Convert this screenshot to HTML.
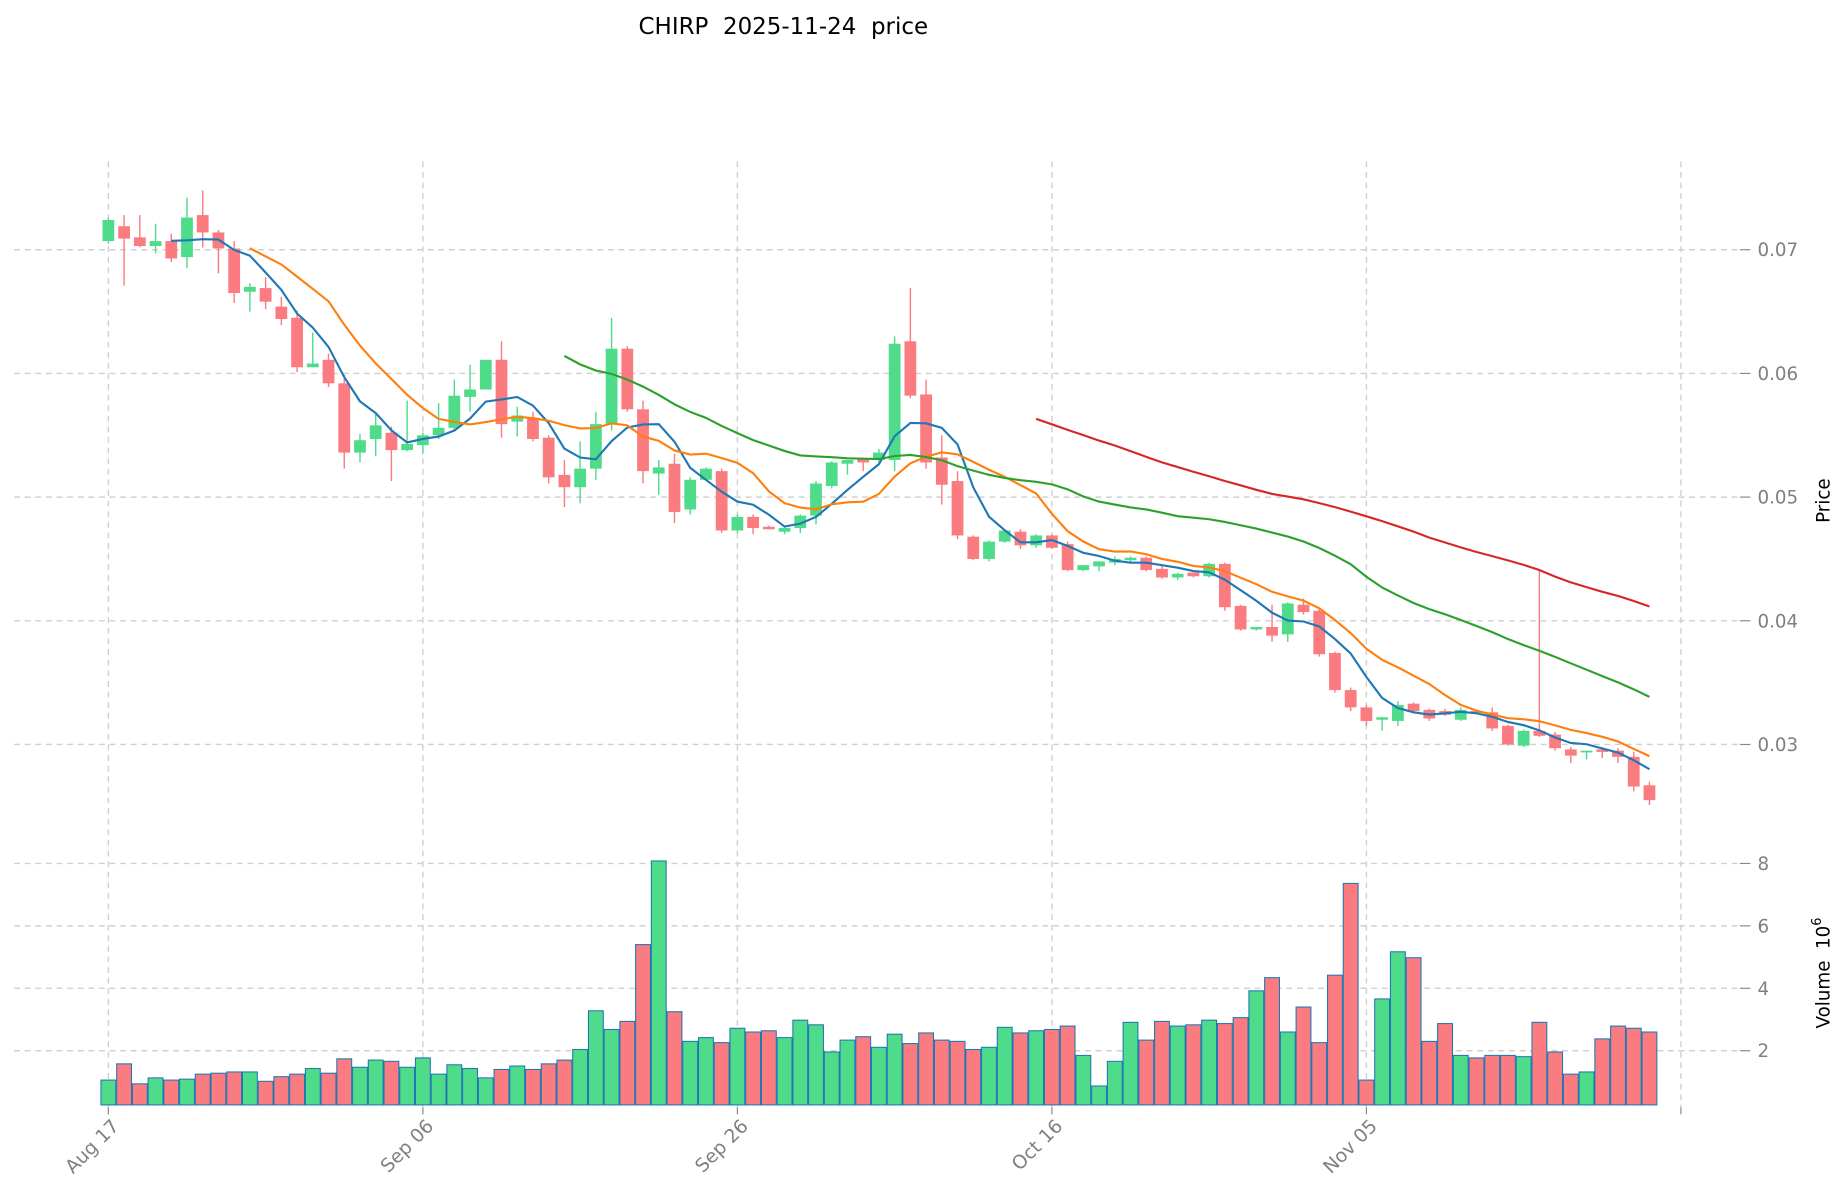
<!DOCTYPE html>
<html><head><meta charset="utf-8"><title>CHIRP price</title>
<style>html,body{margin:0;padding:0;background:#fff;}svg{display:block;font-family:"DejaVu Sans","Liberation Sans",sans-serif;}text{white-space:pre;}</style>
</head><body>
<svg id="chart" width="1847" height="1202" viewBox="0 0 1568 1020.4" xmlns="http://www.w3.org/2000/svg">
<text x="665" y="29" text-anchor="middle" font-size="19.5" fill="#000" xml:space="preserve">CHIRP  2025-11-24  price</text>
<g id="grid"></g>
<g id="vol"></g>
<g id="candles"></g>
<g id="mas"></g>
<g id="axes"></g>
<text transform="translate(1553,425) rotate(-90)" text-anchor="middle" font-size="15.5" fill="#000">Price</text>
<text transform="translate(1553,826) rotate(-90)" text-anchor="middle" font-size="15.5" fill="#000" xml:space="preserve">Volume  10<tspan dy="-7" font-size="11">6</tspan></text>
</svg>
<script>
const opens=[0.0707,0.0719,0.0710,0.0703,0.0707,0.0694,0.0728,0.0714,0.0701,0.0666,0.0669,0.0654,0.0645,0.0605,0.0611,0.0592,0.0536,0.0547,0.0552,0.0538,0.0542,0.0550,0.0556,0.0581,0.0587,0.0611,0.0561,0.0564,0.0548,0.0518,0.0508,0.0523,0.0559,0.0620,0.0571,0.0519,0.0527,0.0490,0.0514,0.0521,0.0473,0.0484,0.0476,0.0472,0.0475,0.0485,0.0509,0.0527,0.0531,0.0530,0.0530,0.0626,0.0583,0.0532,0.0513,0.0468,0.0450,0.0464,0.0472,0.0461,0.0469,0.0462,0.0441,0.0444,0.0447,0.0449,0.0451,0.0442,0.0435,0.0439,0.0436,0.0446,0.0412,0.0393,0.0395,0.0389,0.0413,0.0408,0.0374,0.0344,0.0330,0.0320,0.0319,0.0333,0.0328,0.0327,0.0320,0.0327,0.0326,0.0315,0.0299,0.0311,0.0308,0.0296,0.0294,0.0296,0.0295,0.0290,0.0267];
const closes=[0.0724,0.0709,0.0703,0.0707,0.0693,0.0726,0.0714,0.0701,0.0665,0.0670,0.0658,0.0644,0.0605,0.0608,0.0592,0.0536,0.0546,0.0558,0.0538,0.0543,0.0550,0.0556,0.0582,0.0587,0.0611,0.0559,0.0566,0.0547,0.0516,0.0508,0.0523,0.0559,0.0620,0.0571,0.0521,0.0524,0.0488,0.0514,0.0523,0.0473,0.0484,0.0475,0.0474,0.0475,0.0485,0.0511,0.0528,0.0530,0.0528,0.0536,0.0624,0.0582,0.0528,0.0510,0.0469,0.0450,0.0464,0.0473,0.0461,0.0469,0.0459,0.0441,0.0445,0.0448,0.0450,0.0451,0.0441,0.0435,0.0438,0.0436,0.0446,0.0411,0.0393,0.0395,0.0388,0.0414,0.0407,0.0373,0.0344,0.0330,0.0319,0.0322,0.0332,0.0327,0.0321,0.0324,0.0328,0.0326,0.0313,0.0300,0.0311,0.0307,0.0297,0.0291,0.0295,0.0294,0.0290,0.0266,0.0255];
const highs=[0.0726,0.0728,0.0728,0.0721,0.0713,0.0742,0.0748,0.0716,0.0707,0.0673,0.0678,0.0662,0.0651,0.0633,0.0616,0.0599,0.0551,0.0569,0.0557,0.0578,0.0552,0.0576,0.0595,0.0607,0.0611,0.0626,0.0573,0.0569,0.0550,0.0530,0.0545,0.0569,0.0645,0.0622,0.0578,0.0530,0.0535,0.0516,0.0524,0.0523,0.0486,0.0486,0.0477,0.0476,0.0486,0.0513,0.0529,0.0530,0.0531,0.0539,0.0630,0.0669,0.0595,0.0550,0.0521,0.0469,0.0465,0.0473,0.0474,0.0470,0.0470,0.0464,0.0445,0.0448,0.0452,0.0452,0.0452,0.0444,0.0439,0.0439,0.0447,0.0447,0.0413,0.0395,0.0413,0.0415,0.0418,0.0410,0.0375,0.0346,0.0332,0.0322,0.0335,0.0334,0.0329,0.0329,0.0330,0.0328,0.0330,0.0316,0.0312,0.0441,0.0310,0.0298,0.0295,0.0298,0.0297,0.0294,0.0270];
const lows=[0.0705,0.0671,0.0702,0.0697,0.0690,0.0685,0.0702,0.0681,0.0657,0.0650,0.0652,0.0639,0.0601,0.0605,0.0589,0.0523,0.0528,0.0533,0.0513,0.0537,0.0535,0.0547,0.0553,0.0569,0.0587,0.0548,0.0549,0.0545,0.0511,0.0492,0.0495,0.0514,0.0554,0.0569,0.0511,0.0502,0.0479,0.0486,0.0513,0.0471,0.0471,0.0470,0.0474,0.0470,0.0471,0.0478,0.0507,0.0518,0.0521,0.0528,0.0521,0.0580,0.0523,0.0494,0.0466,0.0449,0.0448,0.0463,0.0458,0.0459,0.0458,0.0440,0.0440,0.0440,0.0445,0.0447,0.0440,0.0434,0.0433,0.0435,0.0435,0.0408,0.0392,0.0392,0.0383,0.0383,0.0405,0.0371,0.0342,0.0327,0.0315,0.0311,0.0315,0.0325,0.0319,0.0323,0.0319,0.0325,0.0311,0.0299,0.0298,0.0306,0.0295,0.0285,0.0288,0.0289,0.0285,0.0262,0.0251];
const volumes=[1.06,1.58,0.94,1.13,1.06,1.09,1.25,1.28,1.32,1.32,1.02,1.17,1.25,1.43,1.28,1.74,1.47,1.70,1.66,1.47,1.77,1.25,1.55,1.43,1.13,1.40,1.51,1.40,1.58,1.70,2.04,3.28,2.68,2.94,5.40,8.08,3.25,2.30,2.42,2.26,2.72,2.60,2.64,2.42,2.98,2.83,1.96,2.34,2.45,2.11,2.53,2.23,2.57,2.34,2.30,2.04,2.11,2.75,2.57,2.64,2.68,2.79,1.85,0.87,1.66,2.91,2.34,2.94,2.79,2.83,2.98,2.87,3.06,3.92,4.34,2.60,3.40,2.26,4.42,7.36,1.06,3.66,5.17,4.98,2.30,2.87,1.85,1.77,1.85,1.85,1.81,2.91,1.96,1.25,1.32,2.38,2.79,2.72,2.60];
const dateLabels=["Aug 17","Sep 06","Sep 26","Oct 16","Nov 05"];
const dateIdx=[0,20,40,60,80];
const priceTicks=[0.03,0.04,0.05,0.06,0.07];
const volTicks=[2,4,6,8];
const maPeriods=[5,10,30,60];
const maColors=["#1f77b4","#ff7f0e","#2ca02c","#d62728"];

const NS="http://www.w3.org/2000/svg";
const X=i=>92+13.35*i;
const YP=p=>212+(0.07-p)*10500;
const YV=v=>945-v*26.5;
function mk(tag,attrs,parent){const e=document.createElementNS(NS,tag);for(const k in attrs)e.setAttribute(k,attrs[k]);parent.appendChild(e);return e;}
const grid=document.getElementById('grid'),axes=document.getElementById('axes');
const GREEN="#4fdc8a",RED="#fa7b80";
[...dateIdx,100].forEach(i=>{
  const l=mk('line',{x1:X(i),x2:X(i),y1:137,y2:940,stroke:'#d0d0d0','stroke-width':1.2,'stroke-dasharray':'5,4'},grid);
  
  
  const t=mk('line',{x1:X(i),x2:X(i),y1:940,y2:946,stroke:'#888','stroke-width':1},axes);
  
  
});
dateIdx.forEach((i,k)=>{
  const t=mk('text',{transform:`translate(${X(i)+10},957) rotate(-45)`,'text-anchor':'end','font-size':16,fill:'#808080'},axes);
  t.textContent=dateLabels[k];
  
  
});
priceTicks.forEach(p=>{
  const y=YP(p);
  const l=mk('line',{x1:12,x2:1477,y1:y,y2:y,stroke:'#d0d0d0','stroke-width':1.2,'stroke-dasharray':'5,4'},grid);
  
  
  const tk=mk('line',{x1:1477,x2:1486,y1:y,y2:y,stroke:'#888','stroke-width':1},axes);
  
  
  const t=mk('text',{x:1492,y:y+5.5,'font-size':15.5,fill:'#808080'},axes);
  t.textContent=p.toFixed(2);
  
  
});
volTicks.forEach(v=>{
  const y=YV(v);
  const l=mk('line',{x1:12,x2:1477,y1:y,y2:y,stroke:'#d0d0d0','stroke-width':1.2,'stroke-dasharray':'5,4'},grid);
  
  
  const tk=mk('line',{x1:1477,x2:1486,y1:y,y2:y,stroke:'#888','stroke-width':1},axes);
  
  
  const t=mk('text',{x:1492,y:y+5.5,'font-size':15.5,fill:'#808080'},axes);
  t.textContent=String(v);
  
  
});
const vol=document.getElementById('vol');
volumes.forEach((v,i)=>{
  const up=closes[i]>=opens[i];
  const r=mk('rect',{x:X(i)-6.3,y:YV(v),width:12.6,height:938-YV(v),fill:up?GREEN:RED,stroke:'#1f77b4','stroke-width':0.9},vol);
  
  
});
const cg=document.getElementById('candles');
opens.forEach((o,i)=>{
  const c=closes[i],up=c>=o,col=up?GREEN:RED;
  const g=mk('g',{},cg);
  
  
  mk('line',{x1:X(i),x2:X(i),y1:YP(highs[i]),y2:YP(lows[i]),stroke:col,'stroke-width':1.2},g);
  const top=YP(Math.max(o,c)),bot=YP(Math.min(o,c));
  mk('rect',{x:X(i)-5,y:top,width:10,height:Math.max(bot-top,1.5),fill:col},g);
});
const mg=document.getElementById('mas');
maPeriods.forEach((n,k)=>{
  const pts=[];
  for(let i=n-1;i<closes.length;i++){let s=0;for(let j=i-n+1;j<=i;j++)s+=closes[j];pts.push(X(i).toFixed(1)+','+YP(s/n).toFixed(1));}
  if(!pts.length)return;
  const p=mk('polyline',{points:pts.join(' '),fill:'none',stroke:maColors[k],'stroke-width':1.8},mg);
  
  
});
</script>
</body></html>
